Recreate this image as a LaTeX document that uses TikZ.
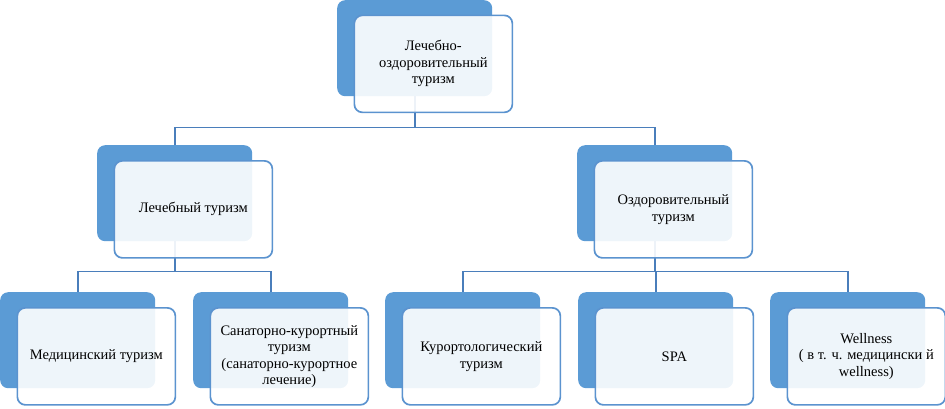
\documentclass[tikz,border=0pt]{standalone}
\usepackage{fontspec}
\setmainfont{Liberation Serif}
\definecolor{backblue}{HTML}{5B9BD5}
\definecolor{edgeblue}{HTML}{5B93CF}
\definecolor{lineblue}{HTML}{4A7EBB}
\begin{document}
\begin{tikzpicture}[x=1pt,y=-1pt,
  backbox/.style={draw=none,fill=backblue,rounded corners=8pt,minimum width=155pt,minimum height=96pt,inner sep=0pt,anchor=north west},
  frontbox/.style={draw=edgeblue,line width=1.7pt,fill=white,fill opacity=0.9,text opacity=1,rounded corners=8pt,minimum width=158pt,minimum height=97pt,inner sep=2pt,anchor=north west,align=center,font=\fontsize{14.5}{16.5}\selectfont},
  conn/.style={draw=lineblue,line width=1.7pt}]
\useasboundingbox (0,0) rectangle (945,408);
% back boxes
\node[backbox] (tb) at (337,0) {};
\node[backbox] (lb) at (97,145) {};
\node[backbox] (rb) at (577,145) {};
\node[backbox] (b1) at (0,292) {};
\node[backbox] (b2) at (193,292) {};
\node[backbox] (b3) at (385,292) {};
\node[backbox] (b4) at (578,292) {};
\node[backbox] (b5) at (770,292) {};
% connectors
\draw[conn] (tb.south) -- ++(0,31) -| (lb.north);
\draw[conn] (tb.south) ++(0,31) -| (rb.north);
\draw[conn] (lb.south) -- ++(0,30) -| (b1.north);
\draw[conn] (lb.south) ++(0,30) -| (b2.north);
\draw[conn] (rb.south) -- ++(0,30) -| (b3.north);
\draw[conn] (rb.south) ++(0,30) -| (b4.north);
\draw[conn] (rb.south) ++(0,30) -| (b5.north);
% front boxes
\node[frontbox] (tf) at (353.5,14.5) {Лечебно-\\оздоровительный\\туризм};
\node[frontbox] (lf) at (113.5,160) {Лечебный туризм};
\node[frontbox] (rf) at (593.5,160) {Оздоровительный\\туризм};
\node[frontbox] (f1) at (16.5,307) {Медицинский туризм};
\node[frontbox] (f2) at (209.5,307) {Санаторно-курортный\\туризм\\(санаторно-курортное\\лечение)};
\node[frontbox] (f3) at (401.5,307) {Курортологический\\туризм};
\node[frontbox] (f4) at (594.5,307) {SPA};
\node[frontbox] (f5) at (786.5,307) {Wellness\\( в т. ч. медицински й\\wellness)};
\end{tikzpicture}
\end{document}
